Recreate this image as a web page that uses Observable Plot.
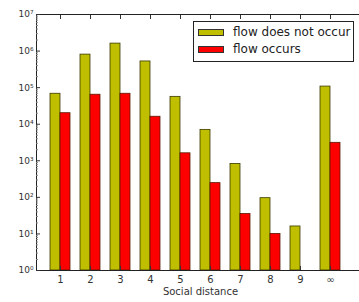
<!DOCTYPE html>
<html>
<head>
<meta charset="utf-8">
<script src="https://cdn.jsdelivr.net/npm/d3@7"></script>
<script src="https://cdn.jsdelivr.net/npm/@observablehq/plot@0.6"></script>
<style>
  body { margin: 0; background: #fff; overflow: hidden; }
  #wrap { position: relative; width: 359px; height: 302px; overflow: hidden; font-family: "DejaVu Sans", sans-serif; }
  #chart svg { max-width: none !important; display: block; }
  #legend { position: absolute; left: 193px; top: 21px; width: 161px; height: 41px; border: 1px solid #222; background: #fff; box-sizing: border-box; font-size: 12px; color: #222; }
  .row { position: absolute; left: 4px; display: flex; align-items: center; }
  .sw { width: 26px; height: 7px; border: 1px solid #333; box-sizing: border-box; margin-right: 9px; }
</style>
</head>
<body>
<div id="wrap">
  <div id="chart"></div>
  <div id="legend">
    <div class="row" style="top:3px"><div class="sw" style="background:#bfbf00"></div><span>flow does not occur</span></div>
    <div class="row" style="top:20px"><div class="sw" style="background:#ff0000"></div><span>flow occurs</span></div>
  </div>
</div>
<script>
const categories = ["1", "2", "3", "4", "5", "6", "7", "8", "9", "∞"];
const flowDoesNotOccur = [6.8e4, 8.0e5, 1.6e6, 5.2e5, 5.6e4, 7.0e3, 820, 95, 16, 1.07e5];
const flowOccurs = [2.0e4, 6.4e4, 6.8e4, 1.6e4, 1.6e3, 245, 35, 10, null, 3.1e3];
const majorTicks = [1, 10, 100, 1e3, 1e4, 1e5, 1e6, 1e7];
const majorLabels = ["10⁰", "10¹", "10²", "10³", "10⁴", "10⁵", "10⁶", "10⁷"];

const data = categories.map((c, i) => ({cat: c, no: flowDoesNotOccur[i], yes: flowOccurs[i]}));
const minorTicks = [];
for (let k = 0; k < 7; k++) for (let m = 2; m <= 9; m++) minorTicks.push(m * 10 ** k);

const olive = "#bfbf00", red = "#ff0000";

const chart = Plot.plot({
  width: 364,
  height: 302,
  marginLeft: 36,
  marginRight: 0,
  marginTop: 14,
  marginBottom: 32,
  style: {fontFamily: "DejaVu Sans, sans-serif", fontSize: "9px", color: "#333", background: "#fff", maxWidth: "none"},
  x: {type: "band", domain: categories, range: [36, 354], paddingInner: 1/3, paddingOuter: 0.43},
  y: {type: "log", domain: [1, 1e7]},
  marks: [
    Plot.barY(data, {x: "cat", y1: 1, y2: "no", fill: olive, stroke: "#3a3a00", strokeWidth: 0.8, insetRight: 10}),
    Plot.barY(data.filter(d => d.yes != null), {x: "cat", y1: 1, y2: "yes", fill: red, stroke: "#5a1a00", strokeWidth: 0.8, insetLeft: 10}),
    Plot.frame({stroke: "#222"}),
    Plot.axisY({ticks: majorTicks, tickFormat: d => majorLabels[majorTicks.indexOf(d)], tickSize: -4, tickPadding: 7, label: null, fontSize: 9}),
    Plot.axisY({ticks: minorTicks, tickFormat: () => "", tickSize: -2, label: null, stroke: "#888"}),
    Plot.axisX({tickSize: -4, tickPadding: 9, label: "Social distance", labelAnchor: "center", labelOffset: 24, fontSize: 10}),
    Plot.axisX({anchor: "top", tickSize: -4, tickFormat: () => "", label: null})
  ]
});
document.getElementById("chart").appendChild(chart);
</script>
</body>
</html>
